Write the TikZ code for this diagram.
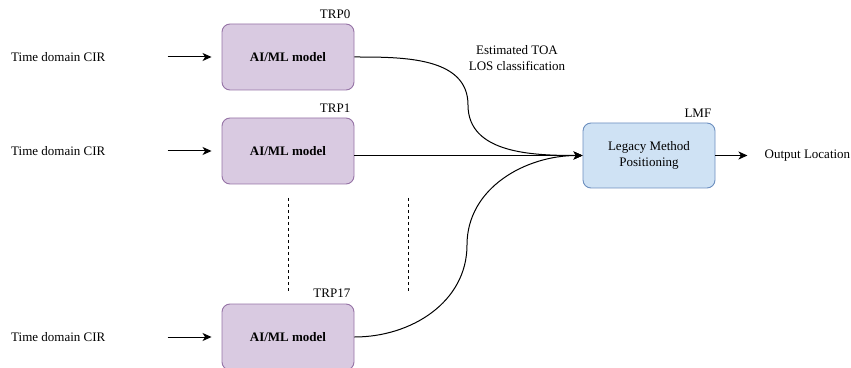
\documentclass[tikz,border=0pt]{standalone}
\usepackage{fontspec}
\setmainfont{Liberation Serif}
\usepackage{tikz}
\usetikzlibrary{arrows.meta, positioning, calc}
\definecolor{mlfill}{HTML}{D9CAE1}
\definecolor{mldraw}{HTML}{9673A6}
\definecolor{lmffill}{HTML}{CFE2F4}
\definecolor{lmfdraw}{HTML}{6C8EBF}

\begin{document}
\begin{tikzpicture}[
  x=1pt, y=1pt,
  font=\fontsize{13pt}{16pt}\selectfont,
  model/.style={draw=mldraw, fill=mlfill, line width=0.9pt, rounded corners=8pt,
                minimum width=132pt, minimum height=66pt, align=center, font=\fontsize{13pt}{16pt}\selectfont\bfseries},
  lmfbox/.style={draw=lmfdraw, fill=lmffill, line width=0.9pt, rounded corners=8pt,
                minimum width=132pt, minimum height=65pt, align=center},
  txt/.style={inner sep=0pt, align=center},
  tag/.style={inner sep=0pt, anchor=south east},
  arr/.style={-{Stealth[length=9pt, width=8pt, inset=2.5pt]}, line width=1pt},
  dots/.style={line width=0.8pt, dash pattern=on 3pt off 3pt},
]
  \useasboundingbox (0,0) rectangle (851,367);

  \node[model] (trp0) at (288,310) {AI/ML model};
  \node[model] (trp1) at (288,216) {AI/ML model};
  \node[model] (trp17) at (288,30) {AI/ML model};
  \node[lmfbox] (lmf) at (649,211.5) {Legacy Method\\Positioning};

  \node[tag] (trp0lbl) at ([shift={(-4,5)}]trp0.north east) {TRP0};
  \node[tag] (trp1lbl) at ([shift={(-4,5)}]trp1.north east) {TRP1};
  \node[tag] (trp17lbl) at ([shift={(-4,6)}]trp17.north east) {TRP17};
  \node[tag] (lmflbl) at ([shift={(-4,5)}]lmf.north east) {LMF};

  \node[txt, left=116pt of trp0] (cir0) {Time domain CIR};
  \node[txt, left=116pt of trp1] (cir1) {Time domain CIR};
  \node[txt, left=116pt of trp17] (cir17) {Time domain CIR};
  \node[txt, right=49pt of lmf] (out) {Output Location};
  \node[txt] (est) at (517,309) {Estimated TOA\\LOS classification};

  \draw[arr] ([xshift=-54pt]trp0.west) -- ([xshift=-10pt]trp0.west);
  \draw[arr] ([xshift=-54pt]trp1.west) -- ([xshift=-10pt]trp1.west);
  \draw[arr] ([xshift=-54pt]trp17.west) -- ([xshift=-10pt]trp17.west);

  \coordinate (bend0) at (468,262);
  \coordinate (bend17) at (467,122);
  \draw[arr] (trp0.east) to[out=0, in=90] (bend0) to[out=-90, in=180] (lmf.west);
  \draw[arr] (trp1.east |- lmf.west) -- (lmf.west);
  \draw[arr] (trp17.east) to[out=0, in=-90] (bend17) to[out=90, in=180] (lmf.west);
  \draw[arr] (lmf.east) -- ([xshift=32pt]lmf.east);

  \draw[dots] (288,169) -- (288,74);
  \draw[dots] (408,169) -- (408,74);
\end{tikzpicture}
\end{document}
